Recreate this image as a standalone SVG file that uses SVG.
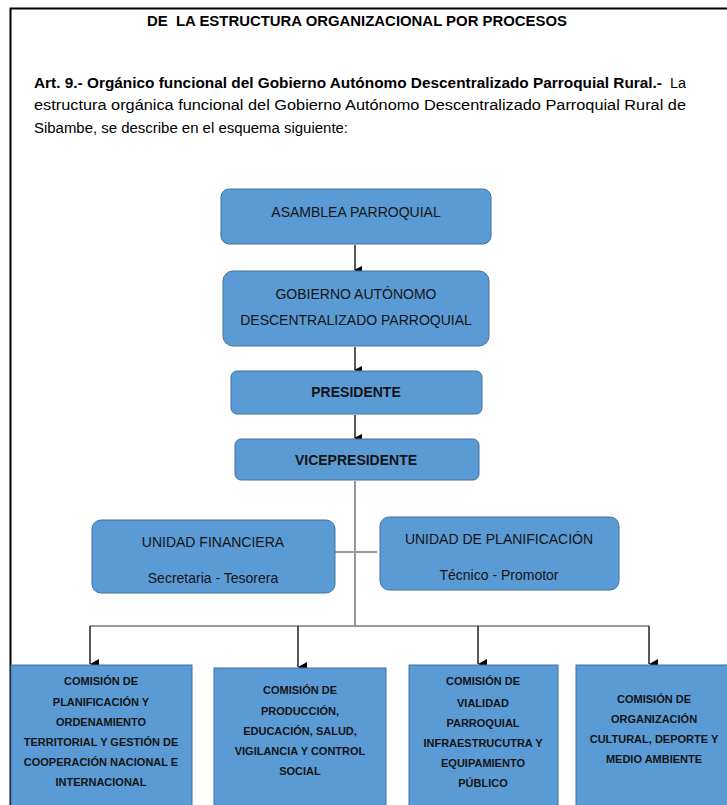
<svg xmlns="http://www.w3.org/2000/svg" width="727" height="805" viewBox="0 0 727 805">
<style>
.box{fill:#5b9bd5;stroke:#41719c;stroke-width:1}
.t{font-family:"Liberation Sans",Arial,sans-serif;fill:#141414;text-anchor:middle}
.m{font-size:14px}
.s{font-size:11px;font-weight:bold}
.p{font-family:"Liberation Sans",Arial,sans-serif;font-size:14px;fill:#000}
.conn{stroke:#999;stroke-width:2;fill:none}
.arr{stroke:#222;stroke-width:1.5;fill:none}
</style>
<defs>
<marker id="ah" markerWidth="8" markerHeight="8" refX="4" refY="7" orient="auto" markerUnits="userSpaceOnUse" viewBox="0 0 8 8">
<path d="M0,0 L8,0 L4,8 Z" fill="#000"/>
</marker>
<marker id="ah2" markerWidth="10" markerHeight="9" refX="5" refY="9" orient="auto" markerUnits="userSpaceOnUse" viewBox="0 0 10 9">
<path d="M0,0 L10,0 L5,9 Z" fill="#000"/>
</marker>
</defs>
<rect width="727" height="805" fill="#fff"/>
<path d="M10.5,805 V8.5 H727" stroke="#000" stroke-width="2" fill="none"/>
<text class="p" x="357" y="26" text-anchor="middle" font-weight="bold" font-size="15" textLength="420" lengthAdjust="spacingAndGlyphs">DE&#160; LA ESTRUCTURA ORGANIZACIONAL POR PROCESOS</text>
<text class="p" x="34" y="88" font-weight="bold" textLength="628" lengthAdjust="spacingAndGlyphs">Art. 9.- Orgánico funcional del Gobierno Autónomo Descentralizado Parroquial Rural.-</text>
<text class="p" x="670" y="88" textLength="16" lengthAdjust="spacingAndGlyphs">La</text>
<text class="p" x="34" y="110" textLength="652" lengthAdjust="spacingAndGlyphs">estructura orgánica funcional del Gobierno Autónomo Descentralizado Parroquial Rural de</text>
<text class="p" x="34" y="133" textLength="314" lengthAdjust="spacingAndGlyphs">Sibambe, se describe en el esquema siguiente:</text>

<g id="connectors">
<path class="arr" d="M355,245 V270" marker-end="url(#ah)"/>
<path class="arr" d="M355,347 V370" marker-end="url(#ah)"/>
<path class="arr" d="M355,415 V438" marker-end="url(#ah)"/>
<path class="conn" d="M355,481 V626"/>
<path class="conn" d="M335,552 H377"/>
<path class="conn" d="M90,626 H649"/>
<path class="arr" d="M90,626 V664" marker-end="url(#ah2)"/>
<path class="arr" d="M298,626 V667" marker-end="url(#ah2)"/>
<path class="arr" d="M478,626 V664" marker-end="url(#ah2)"/>
<path class="arr" d="M649,626 V664" marker-end="url(#ah2)"/>
</g>

<g id="asamblea">
<rect class="box" x="221" y="189" width="270" height="55" rx="8"/>
<text class="t m" x="356" y="217">ASAMBLEA PARROQUIAL</text>
</g>
<g id="gobierno">
<rect class="box" x="223" y="271" width="266" height="75" rx="10"/>
<text class="t m" x="356" y="299">GOBIERNO AUTÓNOMO</text>
<text class="t m" x="356" y="325">DESCENTRALIZADO PARROQUIAL</text>
</g>
<g id="presidente">
<rect class="box" x="231" y="371" width="251" height="43" rx="6"/>
<text class="t m" x="356" y="397" font-weight="bold">PRESIDENTE</text>
</g>
<g id="vicepresidente">
<rect class="box" x="235" y="439" width="244" height="41" rx="6"/>
<text class="t m" x="356" y="465" font-weight="bold">VICEPRESIDENTE</text>
</g>
<g id="financiera">
<rect class="box" x="92" y="520" width="243" height="73" rx="9"/>
<text class="t m" x="213" y="547">UNIDAD FINANCIERA</text>
<text class="t m" x="213" y="583">Secretaria - Tesorera</text>
</g>
<g id="planificacion">
<rect class="box" x="380" y="517" width="239" height="73" rx="9"/>
<text class="t m" x="499" y="544">UNIDAD DE PLANIFICACIÓN</text>
<text class="t m" x="499" y="580">Técnico - Promotor</text>
</g>
<g id="comision1">
<rect class="box" x="11" y="665" width="181" height="145"/>
<text class="t s" x="101" y="685">COMISIÓN DE</text>
<text class="t s" x="101" y="706">PLANIFICACIÓN Y</text>
<text class="t s" x="101" y="726">ORDENAMIENTO</text>
<text class="t s" x="101" y="746">TERRITORIAL Y GESTIÓN DE</text>
<text class="t s" x="101" y="766">COOPERACIÓN NACIONAL E</text>
<text class="t s" x="101" y="786">INTERNACIONAL</text>
</g>
<g id="comision2">
<rect class="box" x="214" y="668" width="172" height="142"/>
<text class="t s" x="300" y="694">COMISIÓN DE</text>
<text class="t s" x="300" y="715">PRODUCCIÓN,</text>
<text class="t s" x="300" y="735">EDUCACIÓN, SALUD,</text>
<text class="t s" x="300" y="755">VIGILANCIA Y CONTROL</text>
<text class="t s" x="300" y="775">SOCIAL</text>
</g>
<g id="comision3">
<rect class="box" x="409" y="665" width="149" height="145"/>
<text class="t s" x="483" y="685">COMISIÓN DE</text>
<text class="t s" x="483" y="707">VIALIDAD</text>
<text class="t s" x="483" y="727">PARROQUIAL</text>
<text class="t s" x="483" y="747">INFRAESTRUCUTRA Y</text>
<text class="t s" x="483" y="767">EQUIPAMIENTO</text>
<text class="t s" x="483" y="787">PÚBLICO</text>
</g>
<g id="comision4">
<rect class="box" x="576" y="665" width="155" height="145"/>
<text class="t s" x="654" y="703">COMISIÓN DE</text>
<text class="t s" x="654" y="723">ORGANIZACIÓN</text>
<text class="t s" x="654" y="743">CULTURAL, DEPORTE Y</text>
<text class="t s" x="654" y="763">MEDIO AMBIENTE</text>
</g>
</svg>
